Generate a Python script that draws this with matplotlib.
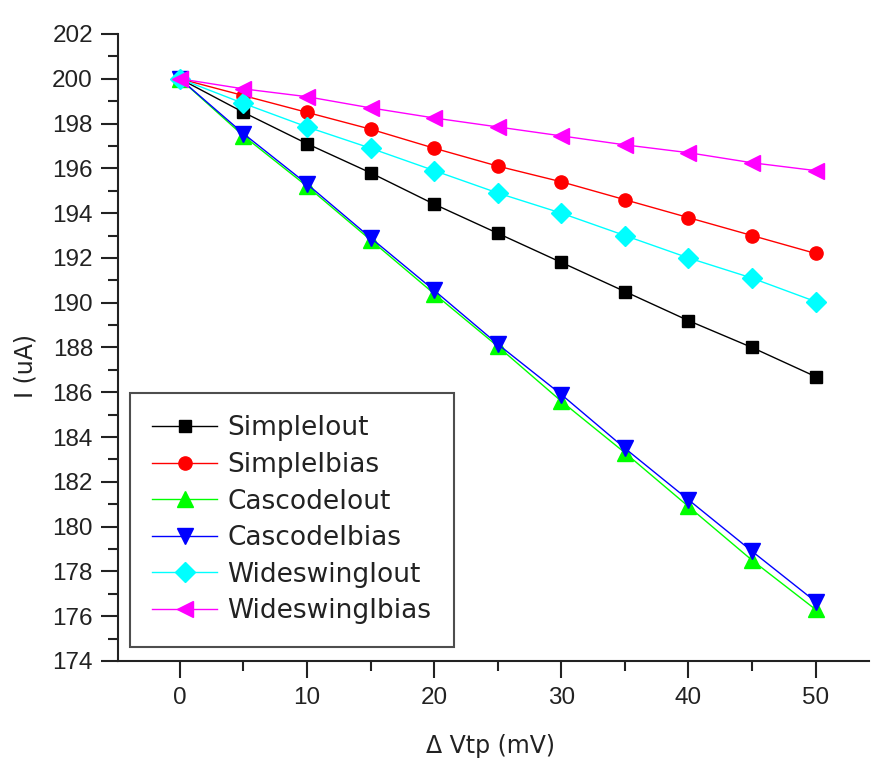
import matplotlib
matplotlib.use("Agg")
import matplotlib.pyplot as plt
from matplotlib.ticker import MultipleLocator

plt.rcParams['font.family'] = ['Liberation Sans', 'DejaVu Sans']

x_mv = [0, 5, 10, 15, 20, 25, 30, 35, 40, 45, 50]
simple_iout = [200.0, 198.5, 197.1, 195.8, 194.4, 193.1, 191.8, 190.5, 189.2, 188.0, 186.7]
simple_ibias = [200.0, 199.25, 198.5, 197.75, 196.9, 196.1, 195.4, 194.6, 193.8, 193.0, 192.2]
cascode_iout = [200.0, 197.45, 195.2, 192.8, 190.4, 188.05, 185.6, 183.3, 180.9, 178.5, 176.3]
cascode_ibias = [200.0, 197.55, 195.3, 192.9, 190.55, 188.15, 185.9, 183.5, 181.2, 178.9, 176.65]
wide_iout = [200.0, 198.9, 197.85, 196.9, 195.9, 194.9, 194.0, 193.0, 192.0, 191.1, 190.05]
wide_ibias = [200.0, 199.55, 199.2, 198.7, 198.25, 197.85, 197.45, 197.05, 196.7, 196.25, 195.9]

labels = ["SimpleIout", "SimpleIbias", "CascodeIout", "CascodeIbias",
          "WideswingIout", "WideswingIbias"]
series = [simple_iout, simple_ibias, cascode_iout, cascode_ibias, wide_iout, wide_ibias]
colors = ["#000000", "#FF0000", "#00FF00", "#0000FF", "#00FFFF", "#FF00FF"]
markers = ["s", "o", "^", "v", "D", "<"]
msizes = [9, 9.5, 11, 11.5, 10.5, 11.5]

fig = plt.figure(figsize=(8.73, 7.58), dpi=100)
ax = fig.add_axes([118/873, 1-661/758, (869-118)/873, (661-34)/758])

for y, lab, c, m, ms in zip(series, labels, colors, markers, msizes):
    ax.plot(x_mv, y, color=c, lw=1.0, marker=m, markersize=ms,
            markerfacecolor=c, markeredgecolor=c, label=lab)

ax.set_xlim(-4.87, 54.2)
ax.set_ylim(174, 202)
ax.xaxis.set_major_locator(MultipleLocator(10))
ax.xaxis.set_minor_locator(MultipleLocator(5))
ax.yaxis.set_major_locator(MultipleLocator(2))
ax.yaxis.set_minor_locator(MultipleLocator(1))

for s in ['top', 'right']:
    ax.spines[s].set_visible(False)
for s in ['left', 'bottom']:
    ax.spines[s].set_linewidth(1.5)
    ax.spines[s].set_color('#222222')

ax.tick_params(axis='both', which='major', direction='out', length=12, width=1.5,
               labelsize=17.5, colors='#222222', pad=6)
ax.tick_params(axis='both', which='minor', direction='out', length=7, width=1.5,
               colors='#222222')
ax.tick_params(axis='x', which='major', pad=7)

lab_font = dict(family=['DejaVu Sans'], size=17, color='#222222')
ax.set_xlabel("Δ Vtp (mV)", **lab_font)
ax.set_ylabel("I (uA)", **lab_font)
ax.xaxis.set_label_coords((490-118)/(869-118), -(734-661)/(661-34))
ax.yaxis.set_label_coords(-(118-38)/(869-118), (661-366)/(661-34))

leg = ax.legend(loc='upper left', bbox_to_anchor=(130/873, 1-393/758),
                bbox_transform=fig.transFigure,
                prop={'family': 'DejaVu Sans', 'size': 19}, frameon=True,
                fancybox=False, handlelength=2.45, handletextpad=0.38,
                labelspacing=0.4, borderpad=0.85, borderaxespad=0)
leg.get_frame().set_edgecolor('#222222')
leg.get_frame().set_linewidth(1.5)
for t in leg.get_texts():
    t.set_color('#222222')

fig.savefig("out.png", dpi=100)
